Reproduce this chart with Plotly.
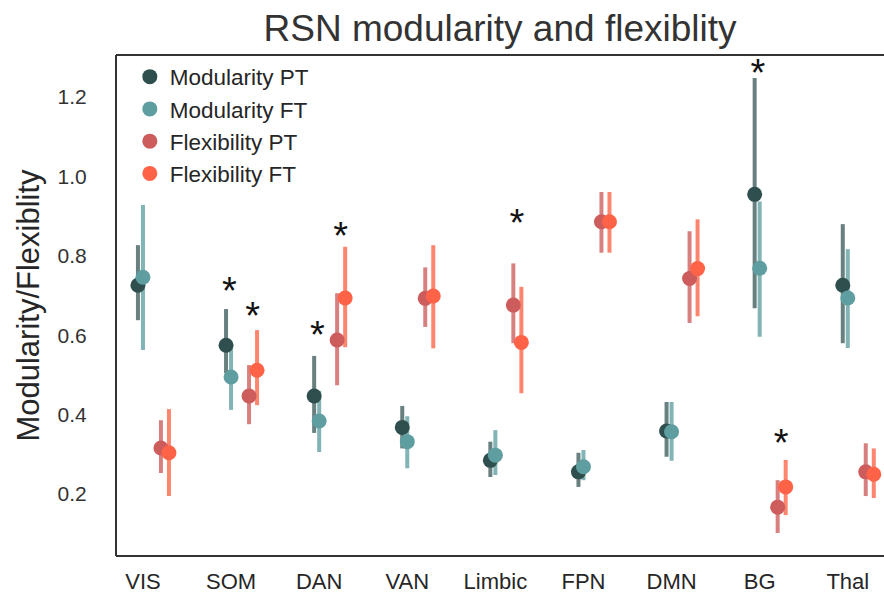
import plotly.graph_objects as go

categories = ["VIS", "SOM", "DAN", "VAN", "Limbic", "FPN", "DMN", "BG", "Thal"]

mod_pt = [0.726, 0.575, 0.447, 0.368, 0.285, 0.256, 0.359, 0.955, 0.726]
mod_pt_lo = [0.638, 0.505, 0.354, 0.315, 0.243, 0.218, 0.294, 0.668, 0.580]
mod_pt_hi = [0.827, 0.666, 0.548, 0.422, 0.332, 0.304, 0.432, 1.248, 0.880]

mod_ft = [0.746, 0.495, 0.384, 0.332, 0.298, 0.269, 0.357, 0.769, 0.694]
mod_ft_lo = [0.563, 0.412, 0.306, 0.265, 0.248, 0.235, 0.284, 0.596, 0.568]
mod_ft_hi = [0.928, 0.580, 0.460, 0.396, 0.361, 0.311, 0.432, 0.937, 0.817]

flex_pt = [0.316, 0.447, 0.588, 0.693, 0.676, 0.886, 0.743, 0.167, 0.256]
flex_pt_lo = [0.253, 0.376, 0.474, 0.621, 0.580, 0.808, 0.631, 0.102, 0.195]
flex_pt_hi = [0.386, 0.525, 0.706, 0.771, 0.781, 0.961, 0.862, 0.235, 0.328]

flex_ft = [0.304, 0.512, 0.694, 0.699, 0.582, 0.886, 0.768, 0.218, 0.250]
flex_ft_lo = [0.195, 0.424, 0.570, 0.567, 0.454, 0.808, 0.648, 0.147, 0.190]
flex_ft_hi = [0.414, 0.613, 0.823, 0.827, 0.722, 0.961, 0.892, 0.286, 0.315]

# significance stars: (category, measure, y of the star)
star_cats = ["SOM", "SOM", "DAN", "DAN", "Limbic", "BG", "BG"]
star_measure = ["mod", "flex", "mod", "flex", "flex", "mod", "flex"]
star_y = [0.726, 0.663, 0.615, 0.865, 0.897, 1.276, 0.343]

series = [
    ("Modularity PT", mod_pt, mod_pt_lo, mod_pt_hi, "#2f4f4f", "rgba(47,79,79,0.72)", -0.057),
    ("Modularity FT", mod_ft, mod_ft_lo, mod_ft_hi, "#5f9ea0", "rgba(95,158,160,0.78)", 0.0),
    ("Flexibility PT", flex_pt, flex_pt_lo, flex_pt_hi, "#cd5c5c", "rgba(205,92,92,0.78)", 0.204),
    ("Flexibility FT", flex_ft, flex_ft_lo, flex_ft_hi, "#ff6347", "rgba(255,99,71,0.78)", 0.295),
]
star_offset = {"mod": -0.02, "flex": 0.245}
STAR_GLYPH_SHIFT = -0.023  # compensates for the asterisk sitting high in its text box

idx = list(range(len(categories)))
fig = go.Figure()

# error bars first
for name, vals, lo, hi, col, ecol, off in series:
    fig.add_trace(go.Scatter(
        x=[i + off for i in idx], y=vals, mode="markers",
        marker=dict(size=1, color="rgba(0,0,0,0)"),
        error_y=dict(type="data", symmetric=False,
                     array=[h - v for h, v in zip(hi, vals)],
                     arrayminus=[v - l for v, l in zip(vals, lo)],
                     color=ecol, thickness=4, width=0),
        showlegend=False, hoverinfo="skip"))

# points on top
for name, vals, lo, hi, col, ecol, off in series:
    fig.add_trace(go.Scatter(
        x=[i + off for i in idx], y=vals, mode="markers", name=name,
        marker=dict(size=15, color=col)))

fig.add_trace(go.Scatter(
    x=[categories.index(c) + star_offset[m] for c, m in zip(star_cats, star_measure)],
    y=[v + STAR_GLYPH_SHIFT for v in star_y], mode="text", text=["*"] * len(star_y),
    textfont=dict(size=38, color="#111111", family="Liberation Sans, Arial, sans-serif"),
    textposition="middle center", showlegend=False, hoverinfo="skip"))

frame = dict(color="#333333", width=2)
fig.add_shape(type="line", xref="paper", yref="paper", x0=0, x1=1, y0=0, y1=0, line=frame)
fig.add_shape(type="line", xref="paper", yref="paper", x0=0, x1=1, y0=1, y1=1, line=frame)
fig.add_shape(type="line", xref="paper", yref="paper", x0=0, x1=0, y0=0, y1=1, line=frame)

fig.update_layout(
    width=884, height=603,
    margin=dict(l=116, r=0, t=55, b=47),
    paper_bgcolor="white", plot_bgcolor="white",
    font=dict(family="Liberation Sans, Arial, sans-serif", color="#262626"),
    title=dict(text="RSN modularity and flexiblity", x=0.5, xref="paper", xanchor="center",
               y=1 - 28 / 603, yref="container", yanchor="middle",
               font=dict(size=37, color="#333333")),
    xaxis=dict(range=[-0.306, 8.411], tickvals=idx, ticktext=categories,
               showgrid=False, zeroline=False, showline=False,
               ticks="outside", ticklen=6, tickcolor="rgba(0,0,0,0)",
               tickfont=dict(size=22, color="#262626")),
    yaxis=dict(range=[0.044, 1.306], tickvals=[0.2, 0.4, 0.6, 0.8, 1.0, 1.2],
               ticktext=["0.2", "0.4", "0.6", "0.8", "1.0", "1.2"],
               showgrid=False, zeroline=False, showline=False,
               ticks="outside", ticklen=24, tickcolor="rgba(0,0,0,0)",
               tickfont=dict(size=21, color="#333333"),
               title=dict(text="Modularity/Flexiblity", font=dict(size=31, color="#262626"), standoff=8)),
    legend=dict(x=0.018, y=0.999, xanchor="left", yanchor="top",
                bgcolor="rgba(255,255,255,0)", font=dict(size=22.5, color="#262626"),
                itemsizing="trace", tracegroupgap=0),
    showlegend=True,
)

fig.write_html("out.html")
